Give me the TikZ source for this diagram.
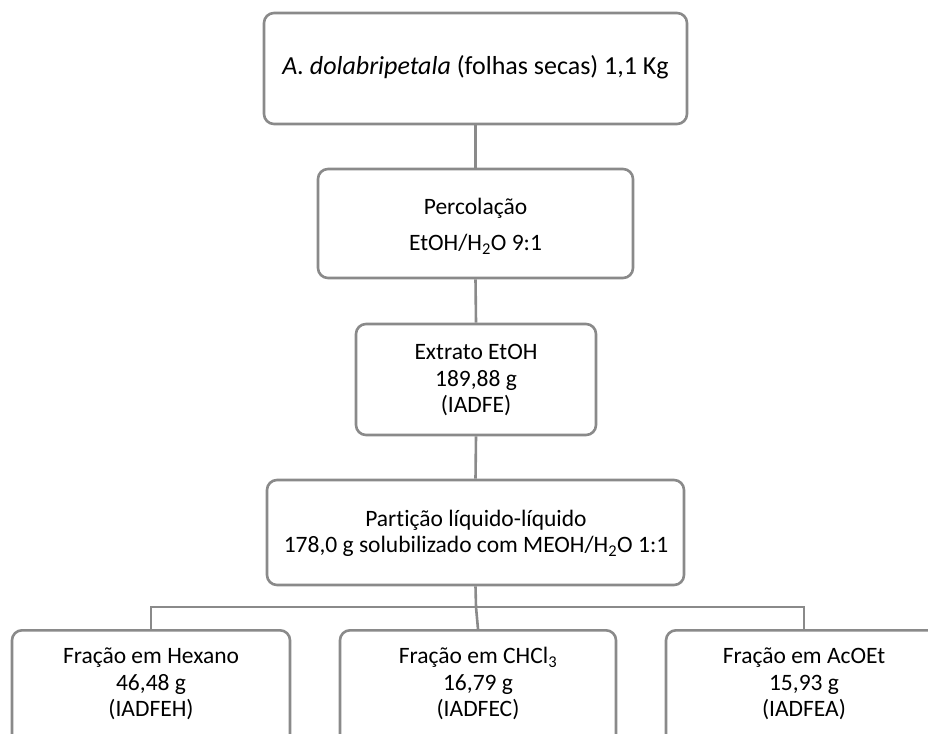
\documentclass[tikz,border=0pt]{standalone}
\usepackage{fontspec}
\setmainfont{Carlito}[Ligatures=NoCommon]
\newcommand{\sub}[1]{\smash{\textsubscript{#1}}}
\begin{document}
\begin{tikzpicture}[x=1pt,y=-1pt,
  every node/.style={font=\fontsize{23.5}{26.5}\selectfont, text=black},
  box/.style={draw=linegray, line width=2.6pt, rounded corners=10pt, fill=white, inner sep=0pt},
  link/.style={draw=linegray, line width=2.6pt},
  txt/.style={align=center, inner sep=0pt}]
\definecolor{linegray}{HTML}{8A8A8A}
\useasboundingbox (0,0) rectangle (928,733);
\clip (0,0) rectangle (928,733);

% boxes of the extraction scheme
\node[box, minimum width=423pt, minimum height=111pt] (plant) at (475.5,68.5) {};
\node[box, minimum width=315pt, minimum height=109pt] (perc) at (475.5,223.5) {};
\node[box, minimum width=240pt, minimum height=111pt] (extr) at (476,379.5) {};
\node[box, minimum width=417pt, minimum height=105pt] (part) at (475.5,532.5) {};
\node[box, minimum width=278pt, minimum height=140pt, anchor=north] (hex) at (151,629) {};
\node[box, minimum width=276pt, minimum height=140pt, anchor=north] (chl) at (478,629) {};
\node[box, minimum width=276pt, minimum height=140pt, anchor=north] (ace) at (804,629) {};

% texts (struts keep first and last lines of equal height and depth)
\node[txt, font=\fontsize{26}{28}\selectfont] (tplant) at (plant) {\strut\textit{A. dolabripetala} (folhas secas) 1,1 Kg};
\node[txt] (tperc) at (475.5,227) {\strut Percolação\\[10pt]EtOH/H\sub{2}O 9:1\strut};
\node[txt] (textr) at (476,381) {\strut Extrato EtOH\\189,88 g\\(IADFE)\strut};
\node[txt] (tpart) at (476,534) {\strut Partição líquido-líquido\\178,0 g solubilizado com MEOH/H\sub{2}O 1:1\strut};
\node[txt] (thex) at (151,685) {\strut Fração em Hexano\\46,48 g\\(IADFEH)\strut};
\node[txt] (tchl) at (478,685) {\strut Fração em CHCl\sub{3}\\16,79 g\\(IADFEC)\strut};
\node[txt] (tace) at (804,685) {\strut Fração em AcOEt\\15,93 g\\(IADFEA)\strut};

% connectors
\draw[link] (plant.south) -- (perc.north);
\draw[link] (perc.south) -- (extr.north);
\draw[link] (extr.south) -- (part.north);
\coordinate (bus) at (476,607);
\draw[link] (part.south) -- (bus);
\draw[link] (bus) -| (hex.north);
\draw[link] (bus) -| (ace.north);
\draw[link] (bus) -- (chl.north);
\end{tikzpicture}
\end{document}
